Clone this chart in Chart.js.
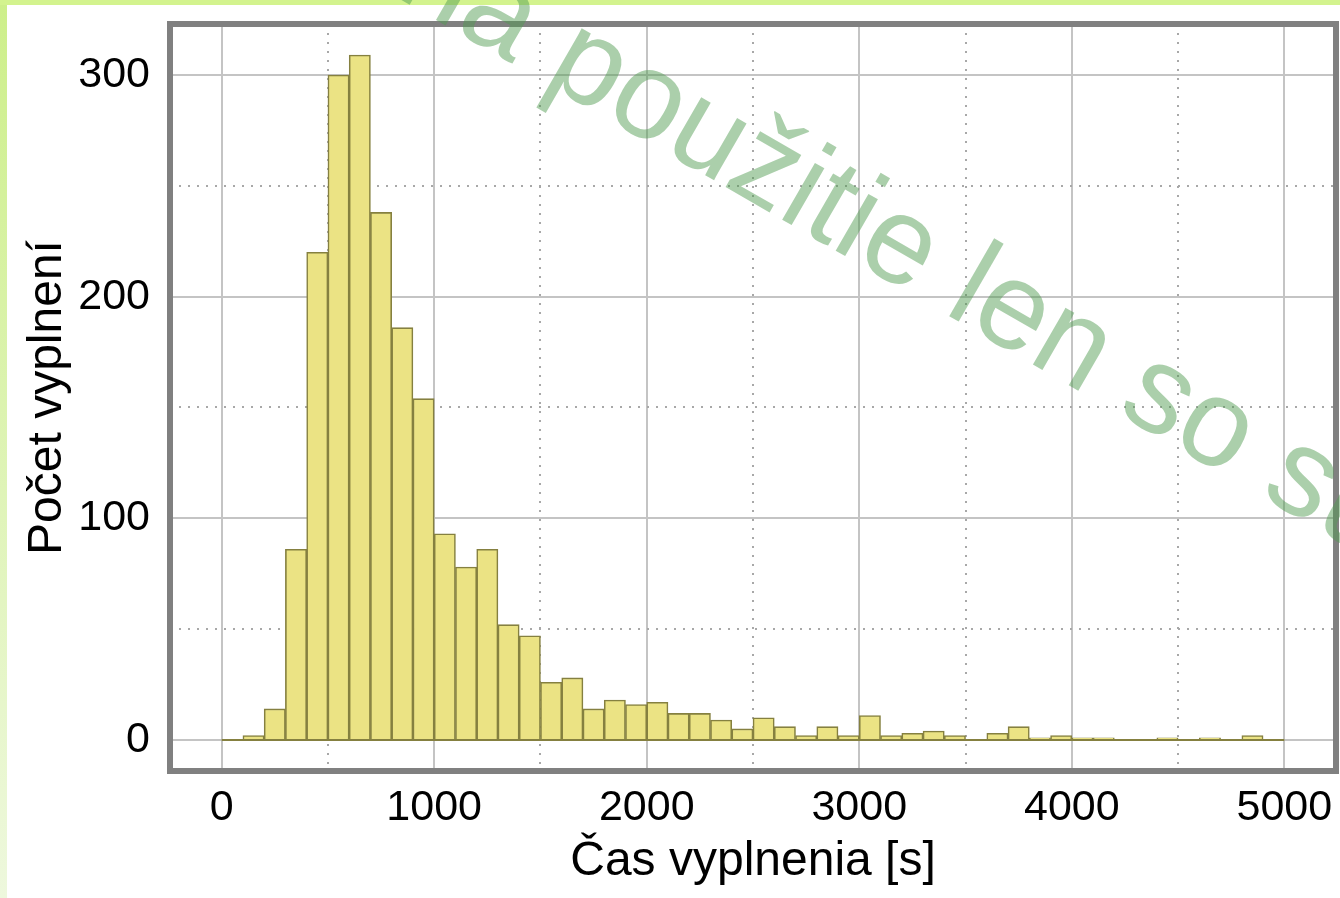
<!DOCTYPE html>
<html>
<head>
<meta charset="utf-8">
<script src="https://cdn.jsdelivr.net/npm/chart.js@4.4.0/dist/chart.umd.min.js"></script>
<style>
  html, body { margin: 0; padding: 0; }
  body {
    width: 1340px; height: 898px; overflow: hidden;
    background:
      linear-gradient(to bottom, #d3f38e 0px, #d3f38e 5px, rgba(255,255,255,0) 5px),
      linear-gradient(to bottom, #cdef8a 0%, #eef8dd 100%) left top / 7px 100% no-repeat,
      #ffffff;
  }
  #wrap { position: absolute; left: 0; top: 0; width: 1340px; height: 898px; }
</style>
</head>
<body>
<div id="wrap"><canvas id="c" width="1340" height="898"></canvas></div>
<script>
// ---- data ----
const binStarts = [0,100,200,300,400,500,600,700,800,900,1000,1100,1200,1300,1400,1500,1600,1700,1800,1900,
                   2000,2100,2200,2300,2400,2500,2600,2700,2800,2900,3000,3100,3200,3300,3400,3500,3600,3700,3800,3900,
                   4000,4100,4200,4300,4400,4500,4600,4700,4800,4900];
const binWidth = 100;
const counts = [0,2,14,86,220,300,309,238,186,154,93,78,86,52,47,26,28,14,18,16,
                17,12,12,9,5,10,6,2,6,2,11,2,3,4,2,0,3,6,1,2,
                1,1,0,0,1,0,1,0,2,0];
const xTicks = [0,1000,2000,3000,4000,5000];
const xMinorTicks = [500,1500,2500,3500,4500];
const yTicks = [0,100,200,300];
const yMinorTicks = [50,150,250];
const xTitle = 'Čas vyplnenia [s]';
const yTitle = 'Počet vyplnení';
const watermark = 'na použitie len so súhlasom';

const points = binStarts.map((s, i) => ({ x: s + binWidth / 2, y: counts[i] }));

const minorGrid = {
  id: 'minorGrid',
  beforeDatasetsDraw(chart) {
    const { ctx, chartArea: a, scales: { x, y } } = chart;
    ctx.save();
    ctx.strokeStyle = '#a8a8a8';
    ctx.lineWidth = 2;
    ctx.setLineDash([2, 7]);
    xMinorTicks.forEach(v => {
      const px = Math.round(x.getPixelForValue(v));
      ctx.beginPath(); ctx.moveTo(px, a.top); ctx.lineTo(px, a.bottom); ctx.stroke();
    });
    yMinorTicks.forEach(v => {
      const py = Math.round(y.getPixelForValue(v));
      ctx.beginPath(); ctx.moveTo(a.left, py); ctx.lineTo(a.right, py); ctx.stroke();
    });
    ctx.restore();
  }
};

const frameAndMark = {
  id: 'frameAndMark',
  afterDraw(chart) {
    const { ctx, chartArea: a, scales: { x, y } } = chart;
    ctx.save();
    // olive baseline under histogram
    ctx.strokeStyle = '#858040';
    ctx.lineWidth = 2;
    ctx.beginPath();
    ctx.moveTo(x.getPixelForValue(binStarts[0]), y.getPixelForValue(0));
    ctx.lineTo(x.getPixelForValue(binStarts[binStarts.length - 1] + binWidth), y.getPixelForValue(0));
    ctx.stroke();
    // frame
    ctx.strokeStyle = '#808080';
    ctx.lineWidth = 6;
    ctx.strokeRect(a.left, a.top, a.right - a.left, a.bottom - a.top);
    ctx.restore();
    // watermark
    ctx.save();
    ctx.font = '124px "Liberation Sans", Arial, sans-serif';
    ctx.fillStyle = 'rgba(80,155,80,0.48)';
    ctx.textBaseline = 'alphabetic';
    ctx.translate(942, 312);
    ctx.rotate(30 * Math.PI / 180);
    const pre = ctx.measureText('na použitie ').width;
    ctx.fillText(watermark, -pre, 0);
    ctx.restore();
  }
};

const fontTick = { family: '"Liberation Sans", Arial, sans-serif', size: 43 };
const fontTitle = { family: '"Liberation Sans", Arial, sans-serif', size: 48 };

new Chart(document.getElementById('c'), {
  type: 'bar',
  data: {
    datasets: [{
      data: points,
      backgroundColor: '#ebe384',
      borderColor: '#858040',
      borderWidth: 1.6,
      barPercentage: 1,
      categoryPercentage: 1
    }]
  },
  options: {
    responsive: false,
    animation: false,
    events: [],
    layout: { padding: { top: 24, right: 4, left: 0, bottom: 0 } },
    plugins: { legend: { display: false }, tooltip: { enabled: false } },
    scales: {
      x: {
        type: 'linear',
        offset: false,
        min: -243, max: 5243,
        afterBuildTicks: s => { s.ticks = xTicks.map(v => ({ value: v })); },
        afterFit: s => { s.height = 127; s.paddingLeft = 0; s.paddingRight = 0; },
        grid: { color: '#c4c4c4', lineWidth: 2, drawTicks: false, offset: false },
        border: { display: false },
        ticks: { color: '#000', font: fontTick, padding: 11, maxRotation: 0, autoSkip: false,
                 callback: v => String(v) },
        title: { display: true, text: xTitle, color: '#000', font: fontTitle, padding: { top: 0, bottom: 7 } }
      },
      y: {
        type: 'linear',
        min: -14, max: 323,
        afterBuildTicks: s => { s.ticks = yTicks.map(v => ({ value: v })); },
        afterFit: s => { s.width = 170; s.paddingTop = 0; s.paddingBottom = 0; },
        grid: { color: '#c4c4c4', lineWidth: 2, drawTicks: false },
        border: { display: false },
        ticks: { color: '#000', font: fontTick, padding: 20, callback: v => String(v) },
        title: { display: true, text: yTitle, color: '#000', font: fontTitle, padding: { top: 19, bottom: 0 } }
      }
    }
  },
  plugins: [minorGrid, frameAndMark]
});
</script>
</body>
</html>
